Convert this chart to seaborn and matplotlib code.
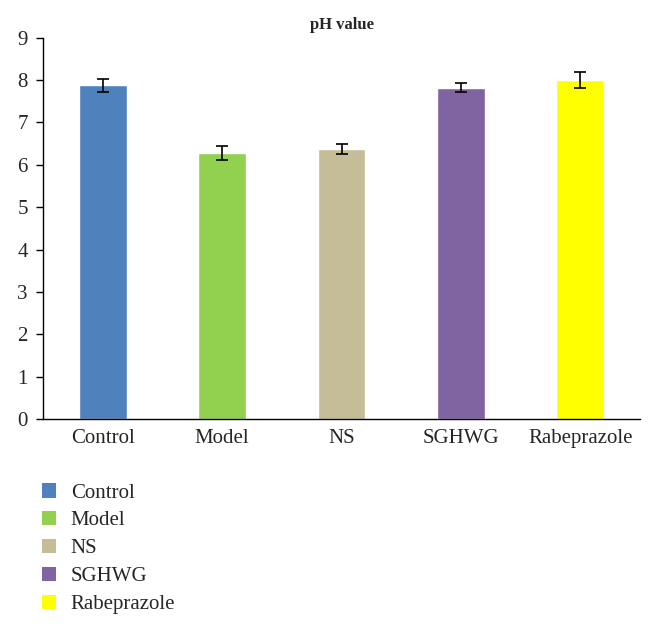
import numpy as np
import pandas as pd
import matplotlib
matplotlib.use("Agg")
import matplotlib.pyplot as plt
import seaborn as sns
from matplotlib.patches import Patch

# ---- data ----
groups = ["Control", "Model", "NS", "SGHWG", "Rabeprazole"]
ph_mean = [7.88, 6.28, 6.38, 7.82, 8.00]
ph_err = [0.15, 0.16, 0.12, 0.10, 0.18]
colors = ["#4F81BD", "#92D050", "#C4BD97", "#8064A2", "#FFFF00"]

df = pd.DataFrame({"group": groups, "ph": ph_mean, "err": ph_err})

sns.set_style("white")
plt.rcParams["font.family"] = ["Liberation Serif", "DejaVu Serif"]

fig = plt.figure(figsize=(6.53, 6.29), dpi=100)
ax = fig.add_axes([0.066, 0.334, 0.914, 0.606])

sns.barplot(data=df, x="group", y="ph", hue="group", palette=colors,
            width=0.4, legend=False, ax=ax, saturation=1)
ax.errorbar(np.arange(len(groups)), df["ph"], yerr=df["err"], fmt="none",
            ecolor="black", elinewidth=1.2, capsize=4, capthick=1.2)

ax.set_xlim(-0.5, len(groups) - 0.5)
ax.set_ylim(0, 9)
ax.set_yticks(range(0, 10))
ax.set_xlabel("")
ax.set_ylabel("")
ax.set_title("pH value", fontsize=12, fontweight="bold", pad=6)

# ticks at category boundaries on the x axis
ax.set_xticks(np.arange(-0.5, len(groups)), minor=True)
ax.tick_params(axis="x", which="major", length=0, labelsize=15, pad=7)
ax.tick_params(axis="x", which="minor", length=7, width=1, direction="out", color="black")
ax.tick_params(axis="y", length=5, width=1, direction="out", color="black",
               labelsize=15, pad=6)
ax.yaxis.set_ticks_position("left")

for s in ["top", "right"]:
    ax.spines[s].set_visible(False)
for s in ["left", "bottom"]:
    ax.spines[s].set_color("black")
    ax.spines[s].set_linewidth(1)

handles = [Patch(facecolor=c, edgecolor="none") for c in colors]
fig.legend(handles, groups, loc="upper left", bbox_to_anchor=(0.035, 0.262),
           frameon=False, fontsize=15, handlelength=0.7, handleheight=0.7,
           labelspacing=0.4, handletextpad=0.7)

fig.savefig("out.png", dpi=100)
